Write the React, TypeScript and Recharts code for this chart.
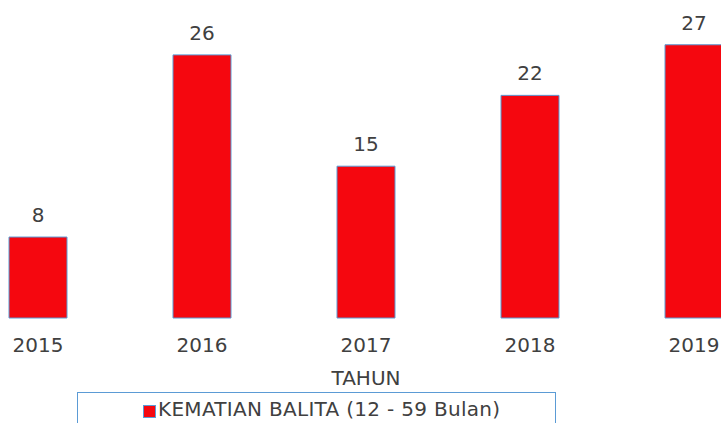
import { BarChart, Bar, XAxis, YAxis, LabelList } from "recharts";

const years = ["2015", "2016", "2017", "2018", "2019"];
const deaths = [8, 26, 15, 22, 27];
const seriesName = "KEMATIAN BALITA (12 - 59 Bulan)";

const rows = years.map((y, i) => ({ tahun: y, value: deaths[i] }));

const FONT = "'DejaVu Sans', Verdana, sans-serif";
const TEXT = "#404040";
const RED = "#f5070f";
const EDGE = "#5b9bd5";

export default function App() {
  return (
    <div style={{
      position: "absolute",
      left: 0,
      top: 0,
      width: 721,
      height: 423,
      overflow: "hidden",
      background: "#fff",
      fontFamily: FONT,
    }}>
      <div style={{ position: "absolute", left: -44, top: 0 }}>
        <BarChart
          width={820}
          height={423}
          data={rows}
          margin={{ top: 14.4, right: 0, bottom: 35, left: 0 }}
          barCategoryGap={0}
        >
          <YAxis hide domain={[0, 30]} />
          <XAxis
            dataKey="tahun"
            height={70}
            axisLine={false}
            tickLine={false}
            tickMargin={14}
            tick={{ fill: TEXT, fontSize: 20, fontFamily: FONT }}
            label={{
              value: "TAHUN",
              position: "insideBottom",
              offset: 3,
              fill: TEXT,
              fontSize: 20,
              fontFamily: FONT,
            }}
          />
          <Bar
            dataKey="value"
            name={seriesName}
            barSize={58}
            fill={RED}
            stroke={EDGE}
            strokeWidth={1}
            isAnimationActive={false}
          >
            <LabelList
              dataKey="value"
              position="top"
              offset={15}
              fill={TEXT}
              fontSize={20}
              fontFamily={FONT}
            />
          </Bar>
        </BarChart>
      </div>
      {/* legend box, cut off at the bottom like the source image */}
      <div style={{
        position: "absolute",
        left: 77,
        top: 392,
        width: 479,
        height: 60,
        border: `1px solid ${EDGE}`,
        boxSizing: "border-box",
      }}>
        <div style={{
          position: "absolute",
          left: 65,
          top: 12,
          width: 11,
          height: 11,
          background: RED,
          border: `1px solid ${EDGE}`,
        }} />
        <div style={{
          position: "absolute",
          left: 80,
          top: 4,
          fontSize: 20,
          letterSpacing: 0.3,
          color: TEXT,
          whiteSpace: "nowrap",
          lineHeight: "24px",
        }}>
          {seriesName}
        </div>
      </div>
    </div>
  );
}
